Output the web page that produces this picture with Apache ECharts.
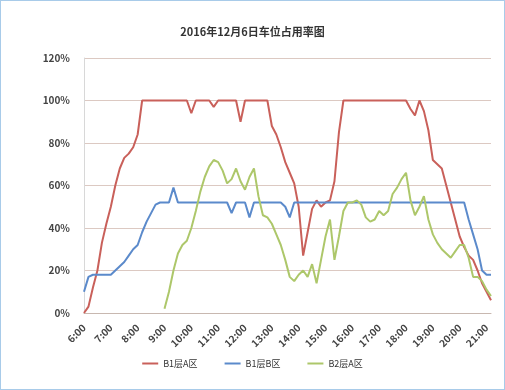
<!DOCTYPE html>
<html>
<head>
<meta charset="utf-8">
<script src="https://cdn.jsdelivr.net/npm/echarts@6/dist/echarts.min.js"></script>
<style>
  html, body { margin: 0; padding: 0; background: #fff; }
  #chart { width: 503px; height: 388px; border: 1px solid #a8cbe9; }
</style>
</head>
<body>
<div id="chart"></div>
<script>
// Time slots, one every 10 minutes from 6:00 to 21:10
const times = [];
for (let h = 6; h <= 21; h++) {
  for (let m = 0; m < 60; m += 10) {
    if (h === 21 && m > 10) break;
    times.push(h + ':' + (m === 0 ? '00' : String(m)));
  }
}

const seriesNames = ['B1层A区', 'B1层B区', 'B2层A区'];

// Occupancy, percent
const b1a = [0, 3, 12, 20, 33, 42, 50, 60, 68, 73, 75, 78, 84, 100, 100, 100, 100, 100, 100, 100,
  100, 100, 100, 100, 94, 100, 100, 100, 100, 97, 100, 100, 100, 100, 100, 90, 100, 100, 100, 100,
  100, 100, 88, 84, 78, 71, 66, 61, 50, 27, 38, 49, 53, 50, 52, 53, 62, 85, 100, 100,
  100, 100, 100, 100, 100, 100, 100, 100, 100, 100, 100, 100, 100, 96, 93, 100, 95, 86, 72, 70,
  68, 60, 52, 44, 36, 31, 27, 25, 20, 14, 10, 6];

const b1b = [10, 17, 18, 18, 18, 18, 18, 20, 22, 24, 27, 30, 32, 38, 43, 47, 51, 52, 52, 52,
  59, 52, 52, 52, 52, 52, 52, 52, 52, 52, 52, 52, 52, 47, 52, 52, 52, 45, 52, 52,
  52, 52, 52, 52, 52, 50, 45, 52, 52, 52, 52, 52, 52, 52, 52, 52, 52, 52, 52, 52,
  52, 52, 52, 52, 52, 52, 52, 52, 52, 52, 52, 52, 52, 52, 52, 52, 52, 52, 52, 52,
  52, 52, 52, 52, 52, 52, 44, 37, 30, 20, 18, 18];

const b2a = [null, null, null, null, null, null, null, null, null, null, null, null, null, null, null, null, null, null, 2, 10,
  20, 28, 32, 34, 40, 48, 57, 64, 69, 72, 71, 67, 61, 63, 68, 62, 58, 64, 68, 55,
  46, 45, 42, 37, 32, 25, 17, 15, 18, 20, 17, 23, 14, 25, 36, 44, 25, 36, 48, 52,
  52, 53, 51, 45, 43, 44, 48, 46, 48, 56, 59, 63, 66, 53, 46, 50, 55, 44, 37, 33,
  30, 28, 26, 29, 32, 32, 26, 17, 17, 15, 11, 8];

const yTicks = { min: 0, max: 120, interval: 20 };
const colors = ['#c9605a', '#5b8acb', '#adc76a'];

const chart = echarts.init(document.getElementById('chart'));
const font = '"Noto Sans CJK SC", "Noto Sans", sans-serif';

chart.setOption({
  backgroundColor: '#ffffff',
  animation: false,
  color: colors,
  title: {
    text: '2016年12月6日车位占用率图',
    left: 'center',
    top: 20,
    textStyle: { fontFamily: font, fontSize: 11, fontWeight: 'bold', color: '#333' }
  },
  legend: {
    bottom: 16,
    left: 'center',
    itemWidth: 16,
    itemHeight: 2,
    itemGap: 27,
    icon: 'rect',
    data: seriesNames,
    textStyle: { fontFamily: font, fontSize: 9, color: '#333' }
  },
  grid: { left: 83, right: 13, top: 57, bottom: 76 },
  xAxis: {
    type: 'category',
    data: times,
    boundaryGap: false,
    axisLine: { lineStyle: { color: '#c8b8b0' } },
    axisTick: { show: false },
    axisLabel: {
      interval: 5,
      rotate: 45,
      fontFamily: font,
      fontSize: 10,
      fontWeight: 'bold',
      color: '#444',
      margin: 13
    },
    splitLine: { show: false }
  },
  yAxis: {
    type: 'value',
    min: yTicks.min,
    max: yTicks.max,
    interval: yTicks.interval,
    axisLine: { show: true, lineStyle: { color: '#d8d8d8' } },
    axisTick: { show: false },
    axisLabel: {
      formatter: '{value}%',
      fontFamily: font,
      fontSize: 10,
      fontWeight: 'bold',
      color: '#444',
      margin: 14
    },
    splitLine: { lineStyle: { color: '#dcc9c2', width: 1 } }
  },
  series: [
    { name: seriesNames[0], type: 'line', data: b1a, symbol: 'none', lineStyle: { width: 2 } },
    { name: seriesNames[1], type: 'line', data: b1b, symbol: 'none', lineStyle: { width: 2 } },
    { name: seriesNames[2], type: 'line', data: b2a, symbol: 'none', lineStyle: { width: 2 } }
  ]
});
</script>
</body>
</html>
